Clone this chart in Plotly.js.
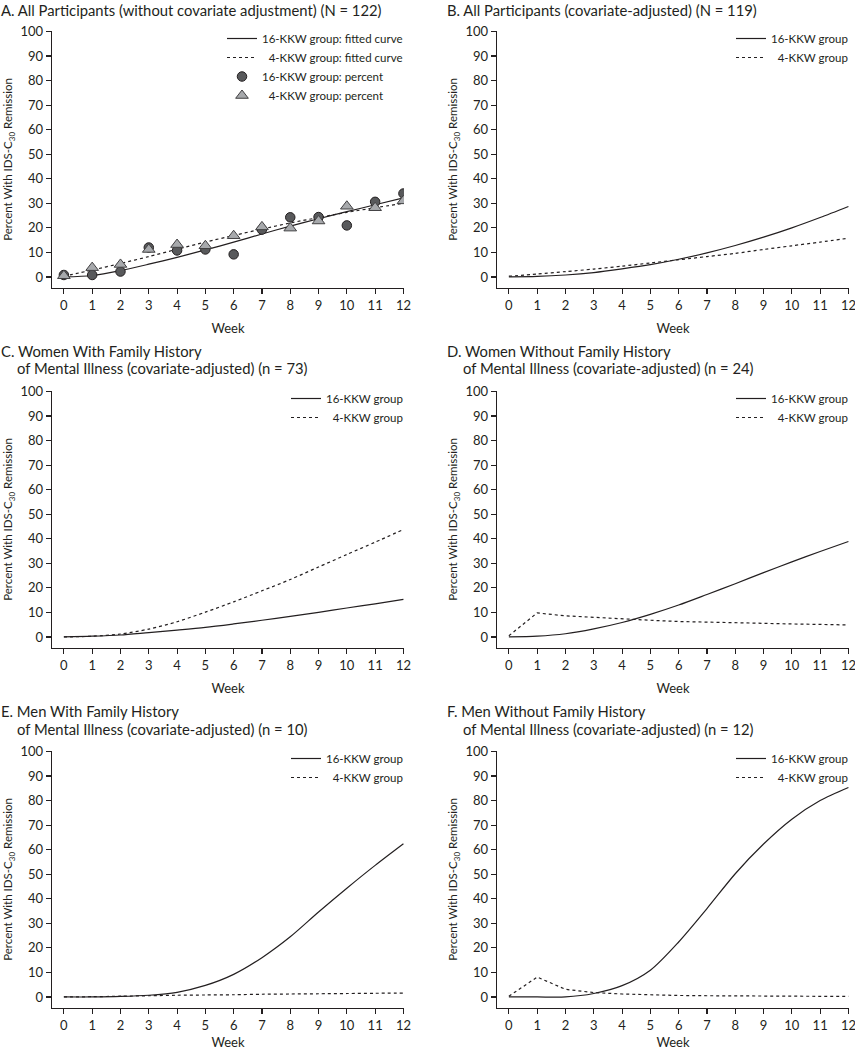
<!DOCTYPE html>
<html>
<head>
<meta charset="utf-8">
<script src="https://cdn.plot.ly/plotly-3.0.1.min.js"></script>
<style>
  html, body { margin: 0; padding: 0; background: #fff; }
  #plot { width: 855px; height: 1050px; }
</style>
</head>
<body>
<div id="plot"></div>
<script>
// weeks of treatment
const weeks = [0, 1, 2, 3, 4, 5, 6, 7, 8, 9, 10, 11, 12];

// A. all participants, observed percent + fitted curves
const aFit16 = [0, 0.6, 2.6, 5.2, 8, 11, 14.2, 17.5, 20.7, 23.7, 26.6, 29.4, 32.2];
const aFit4  = [0.3, 2.8, 5.5, 8.3, 11.3, 14.2, 16.9, 19.5, 22, 24.2, 26.3, 28.2, 30];
const aPct16 = [0.8, 0.8, 2.2, 12, 10.8, 11.2, 9.2, 19.3, 24.3, 24.4, 21, 30.6, 34];
const aPct4  = [0.5, 3.8, 5.1, 11.2, 13.2, 12.7, 16.8, 20.4, 19.9, 22.8, 28.8, 28.2, 31];

// B-F. covariate-adjusted curves
const b16 = [0, 0.2, 0.8, 1.8, 3.3, 5, 7.2, 9.8, 12.8, 16.2, 20, 24.2, 28.7];
const b4  = [0.3, 1.2, 2.2, 3.2, 4.4, 5.7, 7, 8.3, 9.6, 11.2, 12.7, 14.2, 15.8];
const c16 = [0, 0.3, 0.8, 1.8, 2.8, 3.9, 5.3, 6.8, 8.4, 10, 11.8, 13.5, 15.3];
const c4  = [0, 0.3, 1.2, 3.2, 6.2, 10.1, 14.3, 18.8, 23.4, 28.5, 33.6, 38.6, 43.8];
const d16 = [0, 0.3, 1.3, 3.3, 5.9, 9.2, 13, 17.3, 21.7, 26.2, 30.6, 34.8, 38.9];
const d4  = [0.5, 9.8, 8.6, 7.9, 7.3, 6.8, 6.3, 6, 5.7, 5.5, 5.3, 5.1, 4.9];
const e16 = [0, 0, 0.2, 0.7, 1.9, 4.7, 9.2, 16, 24.5, 34.6, 44.3, 53.6, 62.4];
const e4  = [0, 0.1, 0.3, 0.5, 0.7, 0.8, 0.9, 1.1, 1.2, 1.3, 1.4, 1.5, 1.6];
const f16 = [0, 0, 0, 1.4, 4.6, 10.9, 22.4, 36, 50.2, 62.3, 72.4, 80, 85.3];
const f4  = [0.3, 8.1, 3.1, 1.8, 1.2, 0.8, 0.6, 0.5, 0.4, 0.3, 0.3, 0.2, 0.2];

const titles = [
  ['A. All Participants (without covariate adjustment) (N = 122)'],
  ['B. All Participants (covariate-adjusted) (N = 119)'],
  ['C. Women With Family History', 'of Mental Illness (covariate-adjusted) (n = 73)'],
  ['D. Women Without Family History', 'of Mental Illness (covariate-adjusted) (n = 24)'],
  ['E. Men With Family History', 'of Mental Illness (covariate-adjusted) (n = 10)'],
  ['F. Men Without Family History', 'of Mental Illness (covariate-adjusted) (n = 12)']
];

const W = 855, H = 1050;
const ink = '#231f20';
const font = 'Lato, "Liberation Sans", sans-serif';

// pixel boxes of the plot areas
const cols = [[52, 404], [497, 849]];
const rows = [[31, 288], [391, 648], [751, 1008]];

const data = [];
const layout = {
  width: W, height: H,
  margin: {l: 0, r: 0, t: 0, b: 0},
  paper_bgcolor: '#fff', plot_bgcolor: '#fff',
  font: {family: font, color: ink, size: 12},
  annotations: []
};

function lineTrace(i, y, name, dashed, leg, shape) {
  return {
    x: weeks, y: y, name: name, type: 'scatter', mode: 'lines',
    xaxis: 'x' + (i === 1 ? '' : i), yaxis: 'y' + (i === 1 ? '' : i),
    legend: leg,
    line: {color: ink, width: 1.2, dash: dashed ? '3px,3px' : 'solid', shape: shape || 'spline', smoothing: 0.8},
    hoverinfo: 'skip'
  };
}

// panel A
data.push(lineTrace(1, aFit16, '16-KKW group: fitted curve', false, 'legend'));
data.push(lineTrace(1, aFit4, '\u20074-KKW group: fitted curve', true, 'legend'));
data.push({
  x: weeks, y: aPct16, name: '16-KKW group: percent', type: 'scatter', mode: 'markers',
  legend: 'legend',
  marker: {symbol: 'circle', size: 9.5, color: '#58595b', line: {color: '#231f20', width: 1}}
});
data.push({
  x: weeks, y: aPct4, name: '\u20074-KKW group: percent', type: 'scatter', mode: 'markers',
  legend: 'legend',
  marker: {symbol: 'triangle-up', size: 11, color: '#a7a9ac', line: {color: '#414042', width: 1}}
});

const series = [[b16, b4], [c16, c4], [d16, d4], [e16, e4], [f16, f4]];
series.forEach(function (s, k) {
  const i = k + 2;
  const leg = 'legend' + i;
  const dashShape = (i === 4 || i === 6) ? 'linear' : 'spline';
  data.push(lineTrace(i, s[0], '16-KKW group', false, leg));
  data.push(lineTrace(i, s[1], '\u20074-KKW group', true, leg, dashShape));
});

for (let i = 1; i <= 6; i++) {
  const c = cols[(i - 1) % 2];
  const r = rows[Math.floor((i - 1) / 2)];
  const sx = i === 1 ? '' : i;
  const xd = [c[0] / W, c[1] / W];
  const yd = [1 - r[1] / H, 1 - r[0] / H];
  layout['xaxis' + sx] = {
    domain: xd, anchor: 'y' + sx, range: [-0.42, 12.02],
    tickmode: 'array', tickvals: weeks, ticktext: weeks.map(String),
    ticks: 'outside', ticklen: 5, tickwidth: 1.1, tickcolor: ink,
    showline: true, linecolor: ink, linewidth: 1.3,
    showgrid: false, zeroline: false, ticklabeloverflow: 'allow',
    tickfont: {size: 13, color: ink},
    title: {text: 'Week', font: {size: 13, color: ink}, standoff: 12}
  };
  layout['yaxis' + sx] = {
    domain: yd, anchor: 'x' + sx, range: [-4.5, 100.2],
    tickmode: 'array', tickvals: [0, 10, 20, 30, 40, 50, 60, 70, 80, 90, 100],
    ticks: 'outside', ticklen: 5, tickwidth: 1.1, tickcolor: ink,
    showline: true, linecolor: ink, linewidth: 1.3,
    showgrid: false, zeroline: false,
    tickfont: {size: 13, color: ink},
    title: {text: 'Percent With IDS-C<sub>30</sub> Remission', font: {size: 11.5, color: ink}, standoff: 5}
  };
  const legKey = i === 1 ? 'legend' : 'legend' + i;
  layout[legKey] = {
    x: xd[1] + 4 / W, xanchor: 'right',
    y: yd[1] + 7 / H, yanchor: 'top',
    bgcolor: 'rgba(0,0,0,0)', borderwidth: 0,
    font: {size: 11.5, color: ink, family: font},
    itemwidth: 30, tracegroupgap: 0
  };
  // panel titles
  const t = titles[i - 1];
  const tx = (i % 2 === 1) ? 0 : 446 / W;
  const ty1 = i <= 2 ? 9.5 : (i <= 4 ? 351 : 711);
  layout.annotations.push({
    xref: 'paper', yref: 'paper', x: tx, y: 1 - ty1 / H,
    xanchor: 'left', yanchor: 'middle', showarrow: false, borderpad: 0,
    text: t[0], font: {size: 14.8, color: ink}
  });
  if (t[1]) {
    layout.annotations.push({
      xref: 'paper', yref: 'paper', x: tx + 16 / W, y: 1 - (ty1 + 17.5) / H,
      xanchor: 'left', yanchor: 'middle', showarrow: false, borderpad: 0,
      text: t[1], font: {size: 14.8, color: ink}
    });
  }
}

Plotly.newPlot('plot', data, layout, {displayModeBar: false, staticPlot: true});
</script>
</body>
</html>
